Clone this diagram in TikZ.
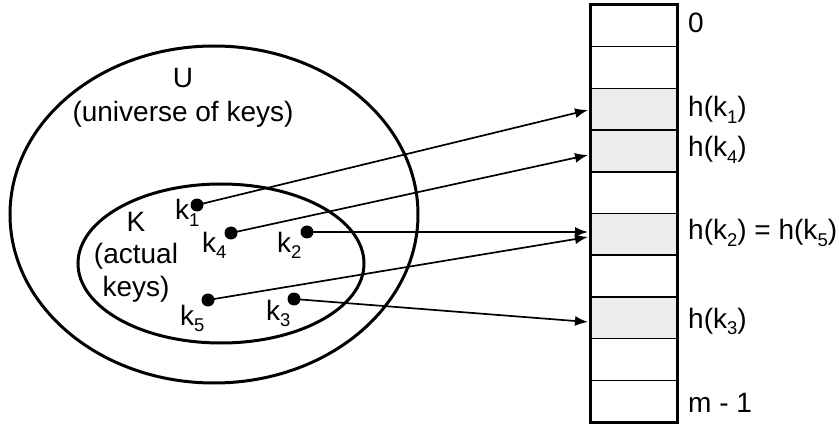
\documentclass[tikz,border=0pt]{standalone}
\usepackage{fontspec}
\setmainfont{Liberation Sans}
\usetikzlibrary{arrows.meta,shapes.geometric}
% lowered, smaller index digit
\newcommand{\ksub}[1]{\raisebox{-6.5pt}{\fontsize{18.5}{18.5}\selectfont #1}}
\begin{document}
\begin{tikzpicture}[x=1pt,y=-1pt,
  every node/.style={font=\fontsize{28}{33}\selectfont, inner sep=0pt},
  setshape/.style={draw, ellipse, line width=3pt, inner sep=0pt},
  keydot/.style={circle, fill=black, minimum size=13pt, inner sep=0pt},
  slot/.style={draw, line width=1.6pt, minimum width=86pt, minimum height=41.7pt, inner sep=0pt},
  hasharrow/.style={line width=1.7pt, -{Latex[length=13pt,width=10pt]}},
  lbl/.style={anchor=base west},
  ctr/.style={anchor=base}]
\useasboundingbox (0,0) rectangle (839,425);

% universe and the set of actual keys
\node[setshape, minimum width=408pt, minimum height=337pt] (U) at (214,214.5) {};
\node[setshape, minimum width=286pt, minimum height=159pt] (K) at (221,263.5) {};

\node[ctr] (Utitle) at (183,88) {U};
\node[ctr] (Udesc) at (183,122) {(universe of keys)};
\node[ctr] (Ktitle) at (136,232) {K};
\node[ctr] (Kdesc1) at (136,264) {(actual};
\node[ctr] (Kdesc2) at (136,297) {keys)};

% keys
\node[keydot] (k1) at (197,205) {};
\node[keydot] (k4) at (231,233) {};
\node[keydot] (k2) at (307,232) {};
\node[keydot] (k5) at (208,300) {};
\node[keydot] (k3) at (294,299) {};

\node[lbl] (k1l) at (175,220) {k\ksub{1}};
\node[lbl] (k4l) at (202,252) {k\ksub{4}};
\node[lbl] (k2l) at (277,252) {k\ksub{2}};
\node[lbl] (k5l) at (180,325) {k\ksub{5}};
\node[lbl] (k3l) at (266,320) {k\ksub{3}};

% hash table slots
\foreach \i/\f in {0/white,1/white,2/gray!15,3/gray!15,4/white,5/gray!15,6/white,7/gray!15,8/white,9/white}
  \node[slot, fill=\f] (r\i) at (634,{5+41.7*(\i+0.5)}) {};
\draw[line width=3pt] (r0.north west) rectangle (r9.south east);

\node[lbl] (t0) at (688,33) {0};
\node[lbl] (t1) at (688,117) {h(k\ksub{1})};
\node[lbl] (t4) at (688,157) {h(k\ksub{4})};
\node[lbl] (t2) at (688,240) {h(k\ksub{2}) = h(k\ksub{5})};
\node[lbl] (t3) at (688,328) {h(k\ksub{3})};
\node[lbl] (tm) at (688,412) {m - 1};

% arrow targets on the table's left edge
\coordinate (h1) at (588,110);
\coordinate (h4) at (588,155);
\coordinate (h2) at (588,232);
\coordinate (h5) at (588,237);
\coordinate (h3) at (588,322);

\draw[hasharrow] (k1.center) -- (h1);
\draw[hasharrow] (k4.center) -- (h4);
\draw[hasharrow] (k2.center) -- (h2);
\draw[hasharrow] (k5.center) -- (h5);
\draw[hasharrow] (k3.center) -- (h3);
\end{tikzpicture}
\end{document}
